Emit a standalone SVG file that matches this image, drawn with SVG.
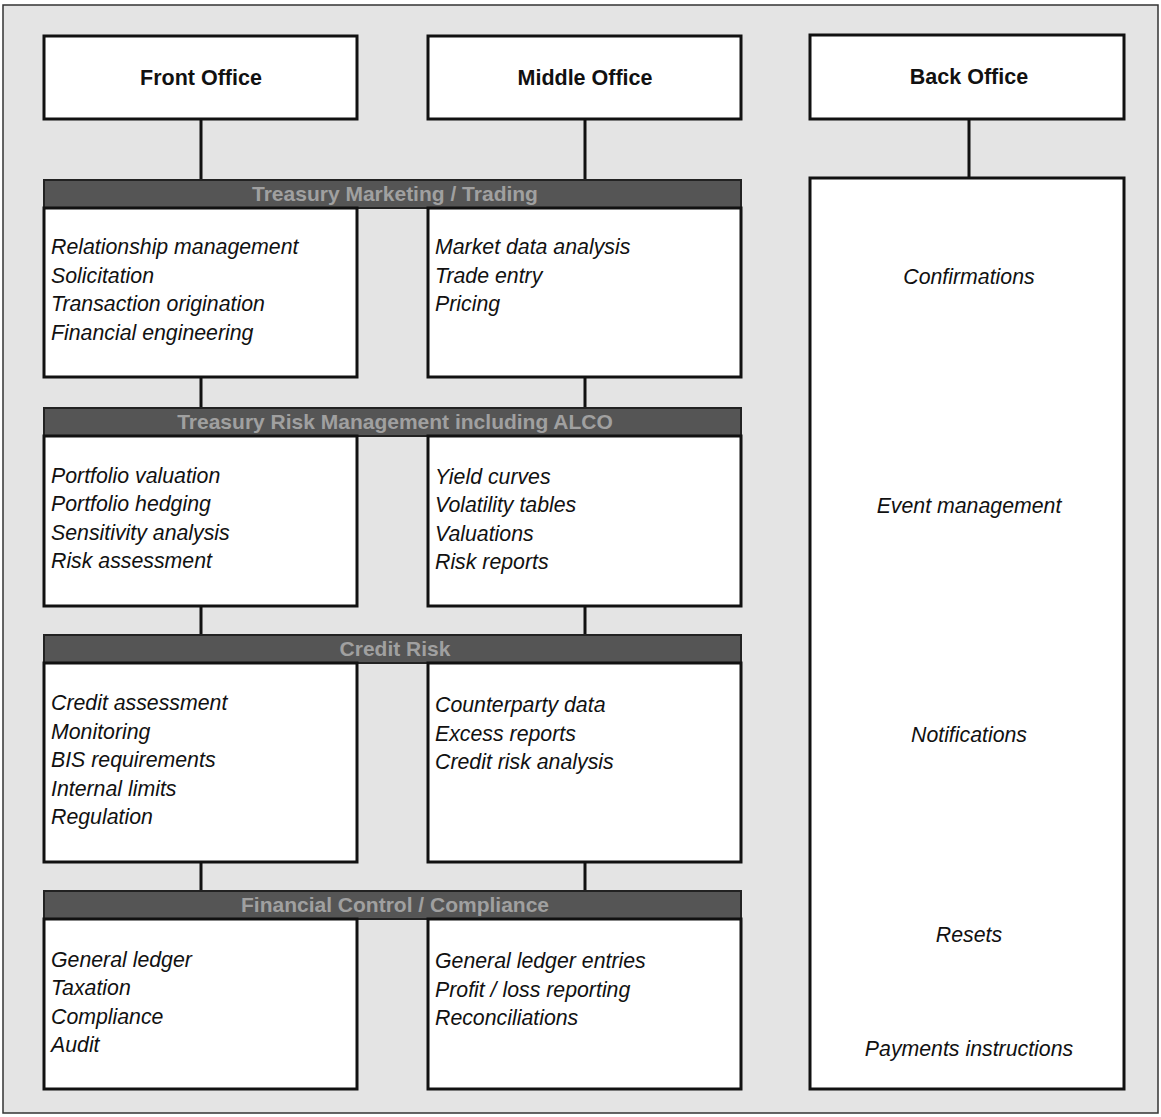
<svg xmlns="http://www.w3.org/2000/svg" width="1161" height="1117" viewBox="0 0 1161 1117">
<style>
.bg{fill:#e4e4e4;stroke:#333;stroke-width:1.5}
.box{fill:#fff;stroke:#111;stroke-width:3}
.band{fill:#555;stroke:#222;stroke-width:2}
.hdr{font-family:"Liberation Sans",Arial,sans-serif;font-weight:bold;font-size:21.5px;fill:#111;text-anchor:middle}
.it{font-family:"Liberation Sans",Arial,sans-serif;font-style:italic;font-size:21.3px;fill:#111}
.itc{font-family:"Liberation Sans",Arial,sans-serif;font-style:italic;font-size:21.3px;fill:#111;text-anchor:middle}
.bt{font-family:"Liberation Sans",Arial,sans-serif;font-weight:bold;font-size:21px;fill:#a0a0a0;text-anchor:middle}
.con{stroke:#111;stroke-width:3;fill:none}
</style>
<rect class="bg" x="3" y="5" width="1155" height="1108"/>
<g id="connectors">
<line class="con" x1="201" y1="119" x2="201" y2="180"/>
<line class="con" x1="585" y1="119" x2="585" y2="180"/>
<line class="con" x1="969" y1="119" x2="969" y2="178"/>
<line class="con" x1="201" y1="377" x2="201" y2="408"/>
<line class="con" x1="585" y1="377" x2="585" y2="408"/>
<line class="con" x1="201" y1="606" x2="201" y2="635"/>
<line class="con" x1="585" y1="606" x2="585" y2="635"/>
<line class="con" x1="201" y1="862" x2="201" y2="891"/>
<line class="con" x1="585" y1="862" x2="585" y2="891"/>
</g>
<g id="front-office"><rect class="box" x="44" y="36" width="313" height="83"/><text class="hdr" x="201" y="85">Front Office</text></g>
<g id="middle-office"><rect class="box" x="428" y="36" width="313" height="83"/><text class="hdr" x="585" y="85">Middle Office</text></g>
<g id="back-office"><rect class="box" x="810" y="35" width="314" height="84"/><text class="hdr" x="969" y="84">Back Office</text></g>

<g id="band1"><rect class="band" x="44" y="180" width="697" height="28"/><text class="bt" x="395" y="201">Treasury Marketing / Trading</text></g>
<g id="band2"><rect class="band" x="44" y="408" width="697" height="28"/><text class="bt" x="395" y="429">Treasury Risk Management including ALCO</text></g>
<g id="band3"><rect class="band" x="44" y="635" width="697" height="28"/><text class="bt" x="395" y="656">Credit Risk</text></g>
<g id="band4"><rect class="band" x="44" y="891" width="697" height="28"/><text class="bt" x="395" y="912">Financial Control / Compliance</text></g>

<g id="fo-trading"><rect class="box" x="44" y="208" width="313" height="169"/>
<text class="it" x="51" y="254">Relationship management</text>
<text class="it" x="51" y="283">Solicitation</text>
<text class="it" x="51" y="311">Transaction origination</text>
<text class="it" x="51" y="340">Financial engineering</text></g>
<g id="mo-trading"><rect class="box" x="428" y="208" width="313" height="169"/>
<text class="it" x="435" y="254">Market data analysis</text>
<text class="it" x="435" y="283">Trade entry</text>
<text class="it" x="435" y="311">Pricing</text></g>

<g id="fo-risk"><rect class="box" x="44" y="436" width="313" height="170"/>
<text class="it" x="51" y="483">Portfolio valuation</text>
<text class="it" x="51" y="511">Portfolio hedging</text>
<text class="it" x="51" y="540">Sensitivity analysis</text>
<text class="it" x="51" y="568">Risk assessment</text></g>
<g id="mo-risk"><rect class="box" x="428" y="436" width="313" height="170"/>
<text class="it" x="435" y="484">Yield curves</text>
<text class="it" x="435" y="512">Volatility tables</text>
<text class="it" x="435" y="541">Valuations</text>
<text class="it" x="435" y="569">Risk reports</text></g>

<g id="fo-credit"><rect class="box" x="44" y="663" width="313" height="199"/>
<text class="it" x="51" y="710">Credit assessment</text>
<text class="it" x="51" y="739">Monitoring</text>
<text class="it" x="51" y="767">BIS requirements</text>
<text class="it" x="51" y="796">Internal limits</text>
<text class="it" x="51" y="824">Regulation</text></g>
<g id="mo-credit"><rect class="box" x="428" y="663" width="313" height="199"/>
<text class="it" x="435" y="712">Counterparty data</text>
<text class="it" x="435" y="741">Excess reports</text>
<text class="it" x="435" y="769">Credit risk analysis</text></g>

<g id="fo-control"><rect class="box" x="44" y="919" width="313" height="170"/>
<text class="it" x="51" y="967">General ledger</text>
<text class="it" x="51" y="995">Taxation</text>
<text class="it" x="51" y="1024">Compliance</text>
<text class="it" x="51" y="1052">Audit</text></g>
<g id="mo-control"><rect class="box" x="428" y="919" width="313" height="170"/>
<text class="it" x="435" y="968">General ledger entries</text>
<text class="it" x="435" y="997">Profit / loss reporting</text>
<text class="it" x="435" y="1025">Reconciliations</text></g>

<g id="bo-functions"><rect class="box" x="810" y="178" width="314" height="911"/>
<text class="itc" x="969" y="284">Confirmations</text>
<text class="itc" x="969" y="513">Event management</text>
<text class="itc" x="969" y="742">Notifications</text>
<text class="itc" x="969" y="942">Resets</text>
<text class="itc" x="969" y="1056">Payments instructions</text></g>
</svg>
